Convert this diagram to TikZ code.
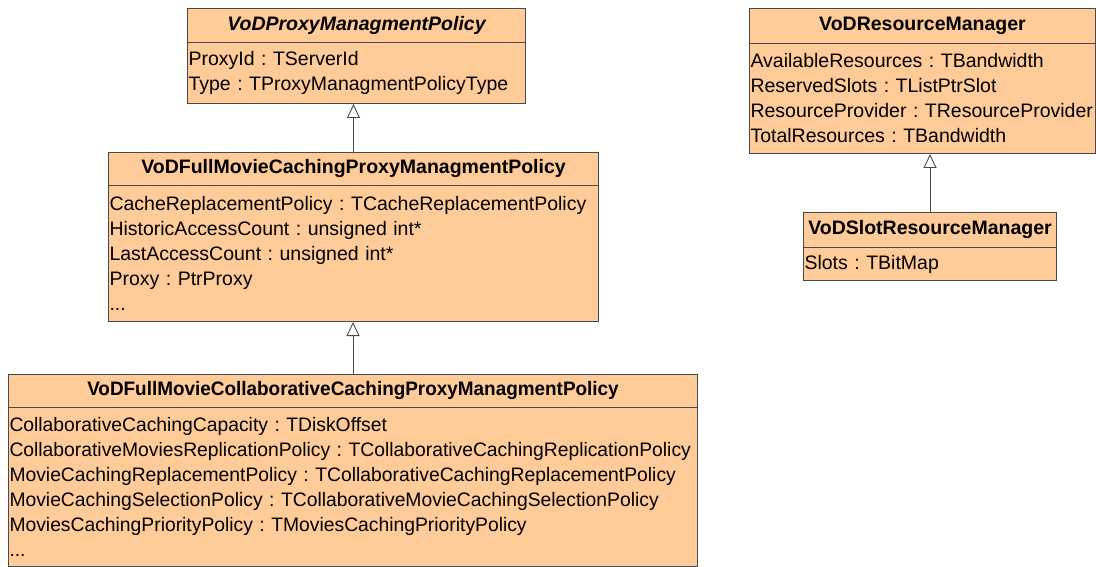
\documentclass[tikz,border=0pt]{standalone}
\usepackage{fontspec}
\setmainfont{Liberation Sans}
\newfontfamily\narrowfont[FakeStretch=0.97]{Liberation Sans}
\newfontfamily\narrowbodyfont[FakeStretch=0.99]{Liberation Sans}
\usetikzlibrary{arrows.meta}

\definecolor{classfill}{HTML}{FFCC99}
\definecolor{classline}{HTML}{4A4A4A}
\newcommand\attrfont{\fontsize{19.5}{25}\selectfont\frenchspacing\hyphenpenalty10000\relax}

\tikzset{
  classhead/.style={draw=classline, fill=classfill, anchor=north west,
    inner sep=0pt, minimum width=#1, font=\fontsize{19.5}{22}\selectfont\bfseries},
  classbody/.style={draw=classline, fill=classfill, anchor=north west,
    inner xsep=1pt, inner ysep=0pt, text width=#1-2pt, align=left,
    font=\attrfont},
  inherit/.style={draw=classline, line width=0.9pt,
    -{Triangle[open, length=14pt, width=13pt, fill=white]}}
}

\begin{document}
\begin{tikzpicture}[x=1pt, y=-1pt, line width=1pt]
  \useasboundingbox (0,0) rectangle (1096,567);

  % left hierarchy
  \node[classhead=338pt, minimum height=34pt] (proxyhead) at (187,8)
    {\itshape VoDProxyManagmentPolicy};
  \node[classbody=338pt, minimum height=61pt] (proxybody) at (187,42)
    {ProxyId : TServerId\\ Type : TProxyManagmentPolicyType};

  \node[classhead=490pt, minimum height=33pt] (cachehead) at (108,152)
    {VoDFullMovieCachingProxyManagmentPolicy};
  \node[classbody=490pt, minimum height=136pt] (cachebody) at (108,185)
    {CacheReplacementPolicy : TCacheReplacementPolicy\\
     HistoricAccessCount : unsigned int*\\
     LastAccessCount : unsigned int*\\
     Proxy : PtrProxy\\
     ...};

  \node[classhead=689pt, minimum height=33pt, font=\fontsize{19.5}{22}\selectfont\narrowfont\bfseries] (collabhead) at (8,374)
    {VoDFullMovieCollaborativeCachingProxyManagmentPolicy};
  \node[classbody=689pt, minimum height=159pt, font=\attrfont\narrowbodyfont] (collabbody) at (8,407)
    {CollaborativeCachingCapacity : TDiskOffset\\
     CollaborativeMoviesReplicationPolicy : TCollaborativeCachingReplicationPolicy\\
     MovieCachingReplacementPolicy : TCollaborativeCachingReplacementPolicy\\
     MovieCachingSelectionPolicy : TCollaborativeMovieCachingSelectionPolicy\\
     MoviesCachingPriorityPolicy : TMoviesCachingPriorityPolicy\\
     ...};

  % right hierarchy
  \node[classhead=346pt, minimum height=35pt] (reshead) at (749,8)
    {VoDResourceManager};
  \node[classbody=346pt, minimum height=110pt] (resbody) at (749,43)
    {AvailableResources : TBandwidth\\
     ReservedSlots : TListPtrSlot\\
     ResourceProvider : TResourceProvider\\
     TotalResources : TBandwidth};

  \node[classhead=253pt, minimum height=35pt] (slothead) at (803,212)
    {VoDSlotResourceManager};
  \node[classbody=253pt, minimum height=33pt] (slotbody) at (803,247)
    {Slots : TBitMap};

  % generalisations
  \draw[inherit] (cachehead.north) -- (cachehead.north |- proxybody.south);
  \draw[inherit] (collabhead.north) -- (collabhead.north |- cachebody.south);
  \draw[inherit] (slothead.north) -- (slothead.north |- resbody.south);
\end{tikzpicture}
\end{document}
